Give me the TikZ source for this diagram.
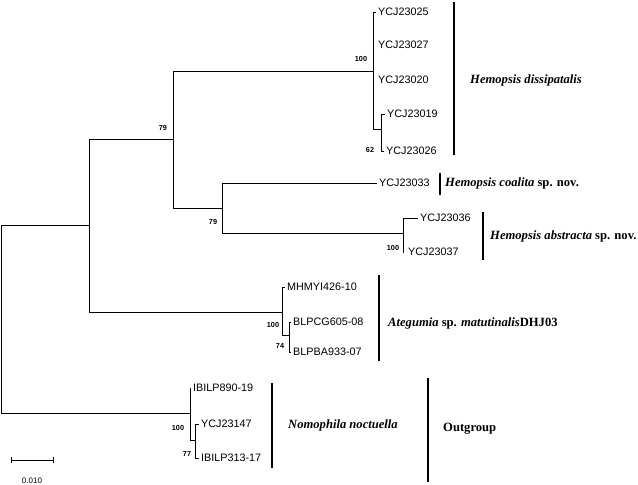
\documentclass[tikz,border=0pt]{standalone}
\usepackage{fontspec}
\setmainfont{Liberation Serif}
\newfontfamily\arialfont{Liberation Sans}

\begin{document}
\begin{tikzpicture}[x=1pt,y=-1pt,
  branch/.style={line width=0.9pt},
  cladebar/.style={line width=2.4pt},
  leaf/.style={anchor=west,inner xsep=2pt,inner ysep=1pt,font=\arialfont\fontsize{10.8}{12}\selectfont},
  boot/.style={inner sep=0pt,font=\arialfont\bfseries\fontsize{7.3}{8}\selectfont},
  clade/.style={anchor=west,inner sep=0pt,font=\fontsize{12.6}{14}\selectfont\bfseries}]
  \useasboundingbox (0,0) rectangle (638,485);

  \coordinate (root) at (1,319);
  \coordinate (A) at (89,225);
  \coordinate (B) at (173,139);
  \coordinate (C) at (222,208);
  \coordinate (D) at (373,71);
  \coordinate (E) at (381,129);
  \coordinate (F) at (403,233);
  \coordinate (G) at (282,312);
  \coordinate (H) at (289,335);
  \coordinate (I) at (190,413);
  \coordinate (J) at (195,440);

  \node[leaf] (t25) at (376,12) {YCJ23025};
  \node[leaf] (t27) at (376,45) {YCJ23027};
  \node[leaf] (t20) at (376,80) {YCJ23020};
  \node[leaf] (t19) at (385,114) {YCJ23019};
  \node[leaf] (t26) at (384,151) {YCJ23026};
  \node[leaf] (t33) at (377,183) {YCJ23033};
  \node[leaf] (t36) at (418,218) {YCJ23036};
  \node[leaf,inner xsep=4pt] (t37) at (404,252) {YCJ23037};
  \node[leaf] (m426) at (285,287) {MHMYI426-10};
  \node[leaf] (bcg) at (291,322) {BLPCG605-08};
  \node[leaf] (bba) at (291,352) {BLPBA933-07};
  \node[leaf] (ib890) at (191,388) {IBILP890-19};
  \node[leaf] (y147) at (199,424) {YCJ23147};
  \node[leaf] (ib313) at (199,458) {IBILP313-17};

  \draw[branch] (root) |- (A);
  \draw[branch] (root) |- (I);
  \draw[branch] (A) |- (B);
  \draw[branch] (A) |- (G);
  \draw[branch] (B) |- (D);
  \draw[branch] (B) |- (C);
  \draw[branch] (D) |- (t25.west);
  \draw[branch] (D) |- (E);
  \draw[branch] (E) |- (t19.west);
  \draw[branch] (E) |- (t26.west);
  \draw[branch] (C) |- (t33.west);
  \draw[branch] (C) |- (F);
  \draw[branch] (F) |- (t36.west);
  \draw[branch] (F) |- (t37.west);
  \draw[branch] (G) |- (m426.west);
  \draw[branch] (G) |- (H);
  \draw[branch] (H) |- (bcg.west);
  \draw[branch] (H) |- (bba.west);
  \draw[branch] (I) |- (ib890.west);
  \draw[branch] (I) |- (J);
  \draw[branch] (J) |- (y147.west);
  \draw[branch] (J) |- (ib313.west);

  \node[boot] (bB) at (163,128) {79};
  \node[boot] (bC) at (213,222) {79};
  \node[boot] (bD) at (361,59) {100};
  \node[boot] (bE) at (370,150) {62};
  \node[boot] (bF) at (393,248) {100};
  \node[boot] (bG) at (273,325) {100};
  \node[boot] (bH) at (280,346) {74};
  \node[boot] (bI) at (178,428) {100};
  \node[boot] (bJ) at (187,454) {77};

  \foreach \x/\ya/\yb in {454/2/155,440/173/195,483/212/260,379/275/361,272/383/468,428/378/482} {
    \draw[cladebar] (\x,\ya) -- (\x,\yb);
  }

  \node[clade] (dis) at (470,80) {\itshape Hemopsis dissipatalis};
  \node[clade] (coa) at (445,183) {{\itshape Hemopsis coalita} sp. nov.};
  \node[clade] (abs) at (490,236) {{\itshape Hemopsis abstracta} sp. nov.};
  \node[clade] (ate) at (388,323) {{\itshape Ategumia} sp. {\itshape matutinalis}DHJ03};
  \node[clade] (nom) at (288,425) {\itshape Nomophila noctuella};
  \node[clade] (out) at (443,429) {Outgroup};

  \coordinate (sbl) at (11,460);
  \coordinate (sbr) at (53,460);
  \draw[line width=0.9pt] (sbl) -- (sbr);
  \draw[line width=0.9pt] ([yshift=-3pt]sbl) -- ([yshift=3pt]sbl);
  \draw[line width=0.9pt] ([yshift=-3pt]sbr) -- ([yshift=3pt]sbr);
  \node[boot,font=\arialfont\fontsize{8}{9}\selectfont] (sbt) at (32,481) {0.010};
\end{tikzpicture}
\end{document}
